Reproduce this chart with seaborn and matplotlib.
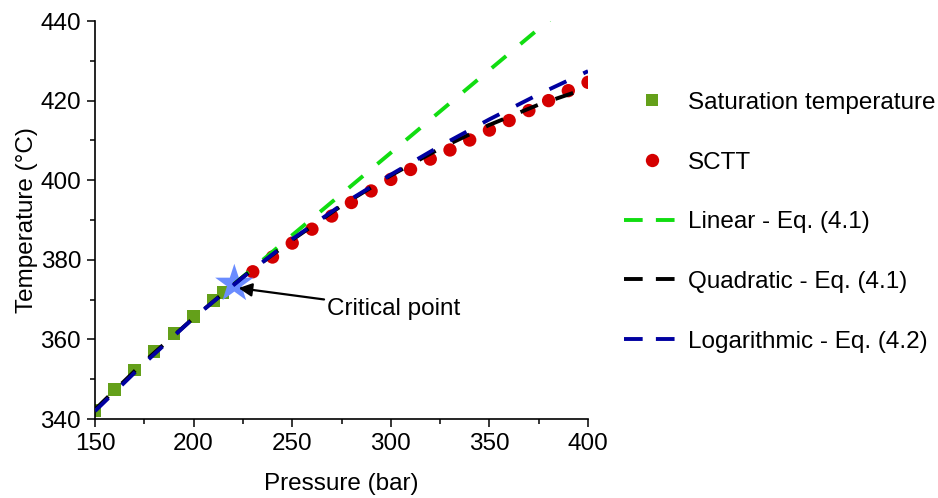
import matplotlib
matplotlib.use("Agg")
import matplotlib.pyplot as plt
import seaborn as sns
from matplotlib.lines import Line2D
from matplotlib.ticker import MultipleLocator

# ---- data ----
sat_p = [150, 160, 170, 180, 190, 200, 210, 215]
sat_t = [342.2, 347.4, 352.3, 357.0, 361.5, 365.7, 369.8, 371.8]

sctt_p = [230, 240, 250, 260, 270, 280, 290, 300, 310, 320, 330, 340, 350,
          360, 370, 380, 390, 400]
sctt_t = [377.0, 380.7, 384.2, 387.7, 391.0, 394.4, 397.3, 400.2, 402.7,
          405.3, 407.6, 410.1, 412.6, 415.0, 417.5, 420.0, 422.5, 424.6]

lin_p = [220.64, 250, 300, 350, 400]
lin_t = [373.95, 386.2, 406.9, 427.7, 448.4]

quad_p = [150, 175, 200, 225, 250, 275, 300, 325, 350, 375, 400]
quad_t = [342.4, 354.4, 365.4, 375.7, 385.0, 393.6, 401.2, 408.0, 413.9, 419.0, 423.2]

log_p = [150, 175, 200, 225, 250, 275, 300, 325, 350, 375, 400]
log_t = [342.0, 354.0, 365.4, 375.6, 385.2, 393.8, 401.4, 408.6, 415.3, 421.6, 427.4]

crit_p = [220.64]
crit_t = [373.95]

labels = ["Saturation temperature", "SCTT", "Linear - Eq. (4.1)",
          "Quadratic - Eq. (4.1)", "Logarithmic - Eq. (4.2)"]

# ---- style ----
sns.set_style("ticks")
plt.rcParams["font.family"] = ["Liberation Sans", "DejaVu Sans"]
plt.rcParams["font.size"] = 17.5
plt.rcParams["text.color"] = "black"
plt.rcParams["axes.labelcolor"] = "black"
plt.rcParams["xtick.color"] = "black"
plt.rcParams["ytick.color"] = "black"

FS = 17.5
C_SAT = "#64a01a"
C_SCTT = "#d40000"
C_LIN = "#11dd11"
C_QUAD = "#000000"
C_LOG = "#0000a0"
C_STAR = "#6a8cff"

LW = 2.8
DASH = (0, (4.8, 4.8))

fig = plt.figure(figsize=(9.38, 4.98), dpi=100)
ax = fig.add_axes([0.1013, 0.1586, 0.5256, 0.7992])

sns.scatterplot(x=sat_p, y=sat_t, marker="s", s=9.0 ** 2, color=C_SAT,
                edgecolor="none", ax=ax, zorder=2)
sns.scatterplot(x=sctt_p, y=sctt_t, marker="o", s=9.6 ** 2, color=C_SCTT,
                edgecolor="none", ax=ax, zorder=2)
sns.scatterplot(x=crit_p, y=crit_t, marker="*", s=29 ** 2, color=C_STAR,
                edgecolor="none", ax=ax, zorder=3)

sns.lineplot(x=lin_p, y=lin_t, color=C_LIN, linewidth=LW, linestyle=DASH,
             ax=ax, zorder=4, sort=False)
sns.lineplot(x=quad_p, y=quad_t, color=C_QUAD, linewidth=LW, linestyle=DASH,
             ax=ax, zorder=5, sort=False)
sns.lineplot(x=log_p, y=log_t, color=C_LOG, linewidth=LW, linestyle=DASH,
             ax=ax, zorder=6, sort=False)

ax.annotate("Critical point", xy=(222.8, 372.9), xytext=(267.8, 367.7),
            fontsize=FS, va="center", ha="left",
            arrowprops=dict(arrowstyle="-|>", color="black", lw=1.6,
                            mutation_scale=20, shrinkA=0, shrinkB=0),
            zorder=7)

ax.set_xlim(150, 400)
ax.set_ylim(340, 440)
ax.xaxis.set_major_locator(MultipleLocator(50))
ax.xaxis.set_minor_locator(MultipleLocator(25))
ax.yaxis.set_major_locator(MultipleLocator(20))
ax.yaxis.set_minor_locator(MultipleLocator(10))
ax.tick_params(which="major", length=6, width=1.1, labelsize=FS, pad=4,
               color="black", labelcolor="black")
ax.tick_params(which="minor", length=3.5, width=1.1, color="black")
for side in ["left", "bottom"]:
    ax.spines[side].set_linewidth(1.2)
    ax.spines[side].set_color("black")
sns.despine(ax=ax)
ax.set_xlabel("Pressure (bar)", fontsize=FS, labelpad=13)
ax.set_ylabel("Temperature (°C)", fontsize=FS, labelpad=2)

handles = [
    Line2D([], [], linestyle="none", marker="s", markersize=8.6, color=C_SAT,
           markeredgewidth=0),
    Line2D([], [], linestyle="none", marker="o", markersize=9.6, color=C_SCTT,
           markeredgewidth=0),
    Line2D([], [], color=C_LIN, linewidth=LW, linestyle=(0, (4.8, 3.4))),
    Line2D([], [], color=C_QUAD, linewidth=LW, linestyle=(0, (4.8, 3.4))),
    Line2D([], [], color=C_LOG, linewidth=LW, linestyle=(0, (4.8, 3.4))),
]
fig.legend(handles, labels, loc="upper left", bbox_to_anchor=(0.655, 0.835),
           frameon=False, fontsize=FS, handlelength=2.3, handletextpad=0.32,
           labelspacing=1.55, borderaxespad=0)

fig.savefig("out.png", dpi=100)
